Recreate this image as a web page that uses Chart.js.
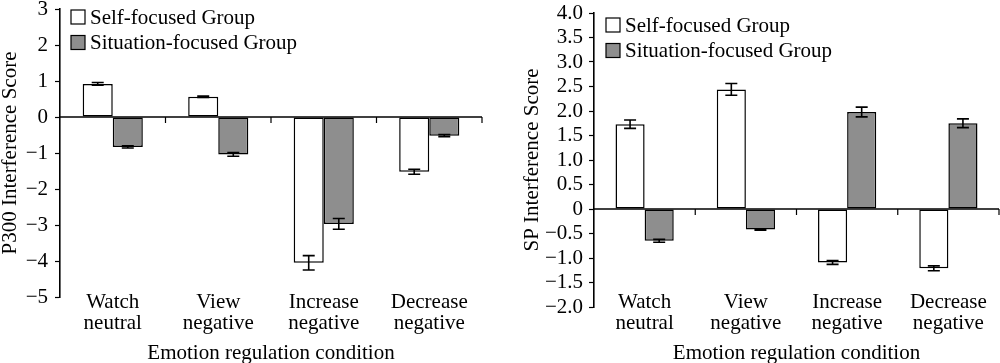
<!DOCTYPE html>
<html><head><meta charset="utf-8">
<script src="https://cdn.jsdelivr.net/npm/chart.js@4/dist/chart.umd.min.js"></script>
<style>
html,body{margin:0;padding:0;background:#fff;}
#wrap{display:flex;width:1000px;height:363px;}
.box{position:relative;width:500px;height:363px;}
canvas{display:block;}
</style></head><body>
<div id="wrap"><div class="box"><canvas id="c1" width="500" height="363"></canvas></div><div class="box"><canvas id="c2" width="500" height="363"></canvas></div></div>
<script>
// ---- data ----
const categories = [["Watch","neutral"],["View","negative"],["Increase","negative"],["Decrease","negative"]];
const seriesNames = ["Self-focused Group","Situation-focused Group"];
const xTitle = "Emotion regulation condition";

const p300Self = [0.92, 0.56, -4.05, -1.52];
const p300SelfErr = [0.04, 0.02, 0.20, 0.07];
const p300Sit = [-0.83, -1.04, -2.97, -0.52];
const p300SitErr = [0.03, 0.05, 0.15, 0.03];
const p300TickValues = [3, 2, 1, 0, -1, -2, -3, -4, -5];
const p300TickLabels = ["3","2","1","0","\u22121","\u22122","\u22123","\u22124","\u22125"];

const spSelf = [1.73, 2.44, -1.09, -1.21];
const spSelfErr = [0.085, 0.12, 0.04, 0.05];
const spSit = [-0.65, -0.42, 1.98, 1.75];
const spSitErr = [0.03, 0.015, 0.10, 0.09];
const spTickValues = [4, 3.5, 3, 2.5, 2, 1.5, 1, 0.5, 0, -0.5, -1, -1.5, -2];
const spTickLabels = ["4.0","3.5","3.0","2.5","2.0","1.5","1.0","0.5","0","\u22120.5","\u22121.0","\u22121.5","\u22122.0"];

const FONT = "'Liberation Serif','Times New Roman',serif";
const FILLS = ['#ffffff', '#8e8e8e'];

const errorBarPlugin = {
  id: 'errbars',
  afterDatasetsDraw(chart) {
    const ctx = chart.ctx, y = chart.scales.y;
    chart.data.datasets.forEach((ds, i) => {
      const meta = chart.getDatasetMeta(i);
      meta.data.forEach((bar, j) => {
        const v = ds.data[j], e = ds.errors[j];
        const x = bar.x;
        const y1 = y.getPixelForValue(v - e), y2 = y.getPixelForValue(v + e);
        ctx.save();
        ctx.strokeStyle = '#000'; ctx.lineWidth = 1.6;
        ctx.beginPath();
        ctx.moveTo(x, y1); ctx.lineTo(x, y2);
        ctx.moveTo(x - 6, y1); ctx.lineTo(x + 6, y1);
        ctx.moveTo(x - 6, y2); ctx.lineTo(x + 6, y2);
        ctx.stroke();
        ctx.restore();
      });
    });
  }
};

const zeroLinePlugin = {
  id: 'zeroline',
  afterDatasetsDraw(chart) {
    const ctx = chart.ctx, y = chart.scales.y, x = chart.scales.x, ca = chart.chartArea;
    const y0 = y.getPixelForValue(0);
    ctx.save();
    ctx.strokeStyle = '#000'; ctx.lineWidth = 1.6;
    ctx.beginPath(); ctx.moveTo(ca.left, y0); ctx.lineTo(ca.right, y0); ctx.stroke();
    ctx.lineWidth = 1.2;
    ctx.beginPath();
    const n = chart.data.labels.length;
    for (let i = 0; i < n; i++) {
      const bx = x.getPixelForValue(i + 0.5);
      ctx.moveTo(bx, y0); ctx.lineTo(bx, y0 + 6);
    }
    ctx.stroke();
    ctx.restore();
  }
};

// lets the category labels sit up beside the lower end of the value axis
const labelLiftPlugin = {
  id: 'labelLift',
  afterLayout(chart, args, o) {
    chart.scales.x.top -= o.lift;
  }
};

const boxLegendPlugin = {
  id: 'boxLegend',
  afterDraw(chart, args, o) {
    const ctx = chart.ctx;
    ctx.save();
    ctx.font = '21px ' + FONT;
    ctx.textBaseline = 'middle';
    chart.data.datasets.forEach((ds, i) => {
      const cy = o.y + i * o.spacing;
      ctx.fillStyle = ds.backgroundColor;
      ctx.fillRect(o.x, cy - 7, 14, 14);
      ctx.strokeStyle = '#000'; ctx.lineWidth = 1.2;
      ctx.strokeRect(o.x, cy - 7, 14, 14);
      ctx.fillStyle = '#000';
      ctx.fillText(ds.label, o.textX, cy + 1);
    });
    ctx.restore();
  }
};

function makeChart(id, cfg) {
  const datasets = [
    { label: seriesNames[0], data: cfg.self, errors: cfg.selfErr, backgroundColor: FILLS[0] },
    { label: seriesNames[1], data: cfg.sit, errors: cfg.sitErr, backgroundColor: FILLS[1] }
  ].map(d => Object.assign(d, { borderColor: '#000', borderWidth: 1.5, borderSkipped: false,
      categoryPercentage: cfg.catPct, barPercentage: 1.0 }));
  return new Chart(document.getElementById(id), {
    type: 'bar',
    data: { labels: categories, datasets },
    options: {
      responsive: false, animation: false, devicePixelRatio: 1,
      layout: { padding: cfg.pad },
      plugins: {
        legend: { display: false }, tooltip: { enabled: false },
        boxLegend: cfg.legend,
        labelLift: { lift: cfg.lift }
      },
      scales: {
        x: {
          ticks: { color: '#000', font: { family: FONT, size: 21, lineHeight: 1.0 }, padding: 0, maxRotation: 0, autoSkip: false },
          grid: { display: false }, border: { display: false },
          title: { display: true, text: xTitle, color: '#000', font: { family: FONT, size: 21, lineHeight: 1.0 }, padding: { top: 0, bottom: cfg.xTitlePad } },
          afterFit(s) { s.height = cfg.xH; s.paddingLeft = 0; s.paddingRight = 0; }
        },
        y: {
          min: cfg.min, max: cfg.max,
          ticks: {
            stepSize: cfg.step, autoSkip: false, padding: cfg.yTickPad, color: '#000',
            font: { family: FONT, size: 21, lineHeight: 1.0 },
            callback: (v) => {
              const k = cfg.tickValues.findIndex(t => Math.abs(t - v) < 1e-6);
              return k >= 0 ? cfg.tickLabels[k] : '';
            }
          },
          grid: { drawOnChartArea: false, drawTicks: true, tickLength: 5, tickColor: '#000', tickWidth: 1.2 },
          border: { display: true, color: '#000', width: 1.6 },
          title: { display: true, text: cfg.yTitle, color: '#000', font: { family: FONT, size: 21, lineHeight: 1.0 }, padding: { top: cfg.yTitlePad, bottom: 0 } },
          afterFit(s) { s.width = cfg.yW; s.paddingTop = 0; s.paddingBottom = 0; }
        }
      }
    },
    plugins: [zeroLinePlugin, errorBarPlugin, boxLegendPlugin, labelLiftPlugin]
  });
}

makeChart('c1', {
  self: p300Self, selfErr: p300SelfErr, sit: p300Sit, sitErr: p300SitErr,
  min: -5, max: 3, step: 1, tickValues: p300TickValues, tickLabels: p300TickLabels,
  yTitle: 'P300 Interference Score',
  pad: { top: 9, right: 18, left: 0, bottom: 0 },
  xH: 66, yW: 60, lift: 13, xTitlePad: -1, yTickPad: 7, yTitlePad: 0,
  catPct: 0.57,
  legend: { x: 71, y: 17, spacing: 25.5, textX: 90 }
});

makeChart('c2', {
  self: spSelf, selfErr: spSelfErr, sit: spSit, sitErr: spSitErr,
  min: -2, max: 4, step: 0.5, tickValues: spTickValues, tickLabels: spTickLabels,
  yTitle: 'SP Interference Score',
  pad: { top: 13, right: 1, left: 0, bottom: 0 },
  xH: 56, yW: 94, lift: 23, xTitlePad: -1, yTickPad: 6, yTitlePad: 22,
  catPct: 0.575,
  legend: { x: 106, y: 25, spacing: 25.5, textX: 125 }
});
</script>
</body></html>
